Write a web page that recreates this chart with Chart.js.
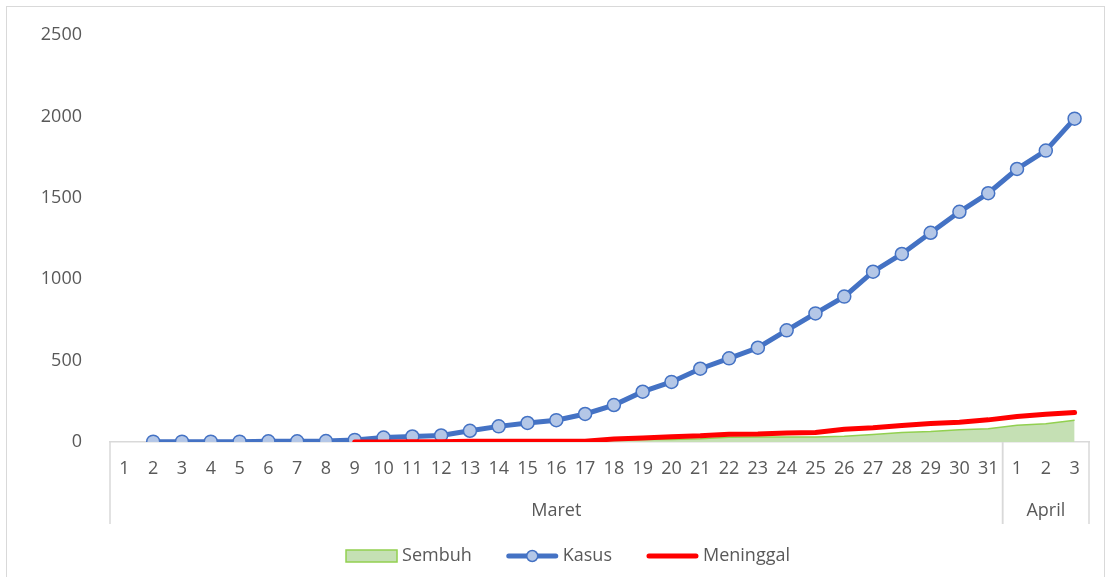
<!DOCTYPE html>
<html lang="id">
<head>
    <meta charset="UTF-8">
    <title>Kasus, Sembuh, Meninggal</title>
    <script src="https://cdn.jsdelivr.net/npm/chart.js"></script>
    <style>
        body { margin: 0; background: #fff; }
        #frame { position: absolute; left: 6px; top: 6px; width: 1097px; height: 600px; border: 1px solid #d9d9d9; }
        canvas { display: block; }
    </style>
</head>
<body>
<div id="frame"><canvas id="chart" width="1097" height="570"></canvas></div>
<script>
// day labels, Maret 1-31 then April 1-3
const days = ['1','2','3','4','5','6','7','8','9','10','11','12','13','14','15','16','17','18','19','20',
              '21','22','23','24','25','26','27','28','29','30','31','1','2','3'];
const months = ['Maret', 'April'];
const monthDays = [31, 3];

const kasus = [null, 2, 2, 2, 2, 4, 4, 6, 13, 27, 34, 40, 69, 96, 117, 134, 172, 227, 309, 369,
               450, 514, 579, 686, 790, 893, 1046, 1155, 1285, 1414, 1528, 1677, 1790, 1986];
const sembuh = [null, null, null, null, null, null, null, null, 0, 0, 0, 0, 3, 8, 8, 8, 9, 11, 15, 16,
                20, 29, 30, 30, 31, 35, 46, 59, 64, 75, 81, 103, 112, 134];
const meninggal = [null, null, null, null, null, null, null, null, 0, 0, 1, 1, 4, 5, 5, 5, 5, 19, 25, 32,
                   38, 48, 49, 55, 58, 78, 87, 102, 114, 122, 136, 157, 170, 181];

const yTicks = [0, 500, 1000, 1500, 2000, 2500];

const txtColor = '#595959';
const lineColor = '#d9d9d9';
const fontFam = '"Open Sans", sans-serif';

// month row under the day labels + separators
const monthAxis = {
    id: 'monthAxis',
    afterDraw(chart) {
        const ctx = chart.ctx, x = chart.scales.x, top = chart.chartArea.bottom;
        const edge = i => {
            if (i <= 0) return x.left;
            if (i >= days.length) return x.right;
            return (x.getPixelForTick(i - 1) + x.getPixelForTick(i)) / 2;
        };
        ctx.save();
        ctx.strokeStyle = lineColor;
        ctx.lineWidth = 1.5;
        ctx.fillStyle = txtColor;
        ctx.font = '18px ' + fontFam;
        ctx.textAlign = 'center';
        ctx.textBaseline = 'middle';
        let start = 0;
        months.forEach((m, k) => {
            const a = edge(start), b = edge(start + monthDays[k]);
            ctx.beginPath();
            ctx.moveTo(a, top); ctx.lineTo(a, top + 82);
            ctx.moveTo(b, top); ctx.lineTo(b, top + 82);
            ctx.stroke();
            ctx.fillText(m, (a + b) / 2, top + 69);
            start += monthDays[k];
        });
        ctx.restore();
    }
};

// legend drawn by hand so the Kasus line can carry its marker
const legendRow = {
    id: 'legendRow',
    afterDraw(chart) {
        const ctx = chart.ctx;
        const sets = chart.data.datasets;
        const sym = 53, gap = 4, space = 34;
        ctx.save();
        ctx.font = '18px ' + fontFam;
        const widths = sets.map(d => sym + gap + ctx.measureText(d.label).width);
        const total = widths.reduce((s, w) => s + w, 0) + space * (sets.length - 1);
        let x = (chart.width - total) / 2 + 12;
        const y = 549;
        sets.forEach((d, i) => {
            if (d.fill) {
                ctx.fillStyle = d.backgroundColor;
                ctx.strokeStyle = d.borderColor;
                ctx.lineWidth = 1.5;
                ctx.fillRect(x + 1, y - 6, sym - 2, 12);
                ctx.strokeRect(x + 1, y - 6, sym - 2, 12);
            } else {
                ctx.strokeStyle = d.borderColor;
                ctx.lineWidth = 5;
                ctx.lineCap = 'round';
                ctx.beginPath();
                ctx.moveTo(x + 3, y); ctx.lineTo(x + sym - 3, y);
                ctx.stroke();
                if (d.pointRadius) {
                    ctx.beginPath();
                    ctx.arc(x + sym / 2, y, 5.5, 0, Math.PI * 2);
                    ctx.fillStyle = d.pointBackgroundColor;
                    ctx.fill();
                    ctx.lineWidth = 1.5;
                    ctx.strokeStyle = d.pointBorderColor;
                    ctx.stroke();
                }
            }
            ctx.fillStyle = txtColor;
            ctx.textAlign = 'left';
            ctx.textBaseline = 'middle';
            ctx.fillText(d.label, x + sym + gap, y);
            x += widths[i] + space;
        });
        ctx.restore();
    }
};

new Chart(document.getElementById('chart'), {
    type: 'line',
    data: {
        labels: days,
        datasets: [
            {
                label: 'Sembuh',
                data: sembuh,
                fill: 'origin',
                backgroundColor: '#c5e0b4',
                borderColor: '#92d050',
                borderWidth: 1.5,
                pointRadius: 0,
                order: 3
            },
            {
                label: 'Kasus',
                data: kasus,
                fill: false,
                borderColor: '#4472c4',
                borderWidth: 5,
                pointRadius: 6.5,
                pointBackgroundColor: '#b4c7e7',
                pointBorderColor: '#4472c4',
                pointBorderWidth: 1.5,
                order: 2
            },
            {
                label: 'Meninggal',
                data: meninggal,
                fill: false,
                borderColor: '#ff0000',
                borderWidth: 5,
                borderCapStyle: 'round',
                pointRadius: 0,
                order: 1
            }
        ]
    },
    options: {
        responsive: false,
        animation: false,
        layout: { padding: { top: 28, right: 15, bottom: 37, left: 0 } },
        plugins: {
            legend: { display: false },
            tooltip: { enabled: false }
        },
        scales: {
            x: {
                offset: true,
                grid: { display: false },
                border: { color: lineColor, width: 1.5 },
                ticks: {
                    color: txtColor,
                    font: { family: fontFam, size: 18 },
                    maxRotation: 0,
                    autoSkip: false,
                    padding: 8
                },
                afterFit(scale) { scale.height = 98; }
            },
            y: {
                min: 0,
                max: 2500,
                grid: { display: false },
                border: { display: false },
                afterBuildTicks(scale) { scale.ticks = yTicks.map(v => ({ value: v })); },
                ticks: {
                    color: txtColor,
                    font: { family: fontFam, size: 18 },
                    padding: 20,
                    callback: v => String(v)
                },
                afterFit(scale) {
                    scale.width = 103;
                    scale.paddingTop = 0;
                    scale.paddingBottom = 0;
                }
            }
        }
    },
    plugins: [monthAxis, legendRow]
});
</script>
</body>
</html>
